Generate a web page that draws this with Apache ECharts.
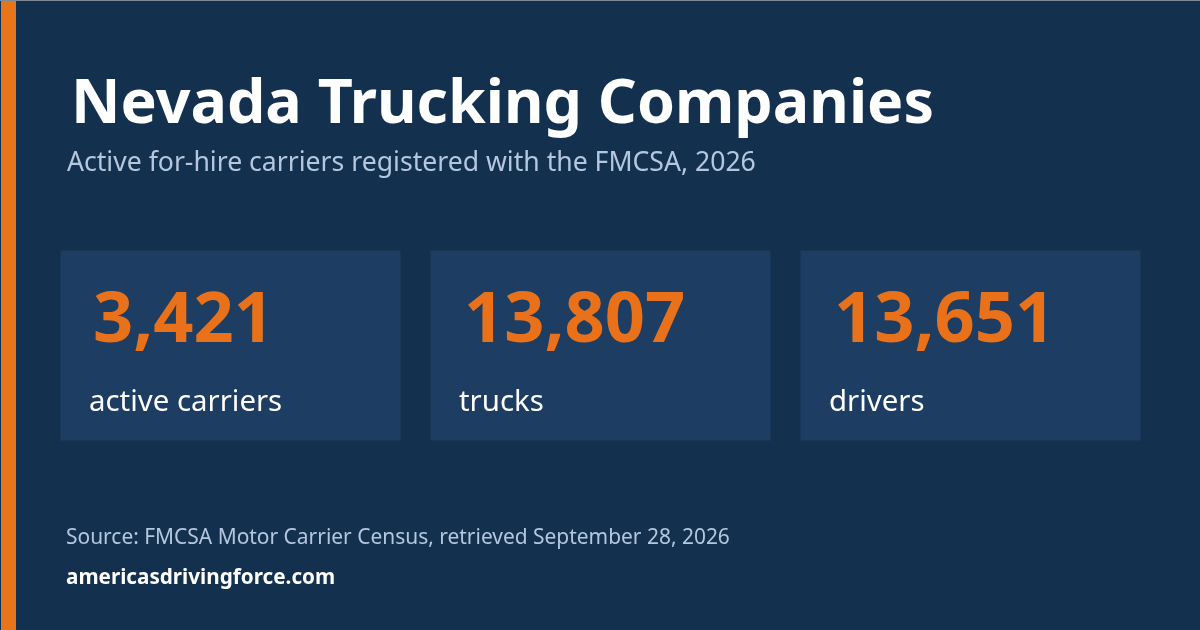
<!DOCTYPE html>
<html>
<head>
<meta charset="utf-8">
<style>
  html, body { margin: 0; padding: 0; background: #14304f; }
  #main { width: 1200px; height: 630px; }
</style>
<script src="https://cdn.jsdelivr.net/npm/echarts@6/dist/echarts.min.js"></script>
</head>
<body>
<div id="main"></div>
<script>
const titleText = 'Nevada Trucking Companies';
const subtitleText = 'Active for-hire carriers registered with the FMCSA, 2026';
const statValues = ['3,421', '13,807', '13,651'];
const statLabels = ['active carriers', 'trucks', 'drivers'];
const sourceText = 'Source: FMCSA Motor Carrier Census, retrieved September 28, 2026';
const siteText = 'americasdrivingforce.com';

const font = '"Noto Sans", "Open Sans", sans-serif';
const myChart = echarts.init(document.getElementById('main'), null, { renderer: 'canvas' });

// y is the text baseline, graphic text draws from its top so shift it up
function label(x, y, text, size, weight, fill) {
    return {
        type: 'text',
        x: x,
        y: y - size * 0.84,
        style: {
            text: text,
            fontFamily: font,
            fontSize: size,
            fontWeight: weight,
            fill: fill
        }
    };
}

let elements = [
    { type: 'rect', shape: { x: 0, y: 0, width: 1200, height: 630 }, style: { fill: '#14304f' } },
    { type: 'rect', shape: { x: 0, y: 0, width: 1200, height: 1 }, style: { fill: '#7f8b99' } },
    { type: 'rect', shape: { x: 1, y: 1, width: 15, height: 629 }, style: { fill: '#e8751a' } },
    label(71, 126, titleText, 60.9, 700, '#ffffff'),
    label(67, 172, subtitleText, 26.6, 400, '#b4c7de'),
    label(66, 545, sourceText, 20.95, 400, '#b4c7de'),
    label(66, 585, siteText, 20.7, 700, '#ffffff')
];

// one card per stat
const valueX = [93, 464, 834];
const labelX = [89, 459, 829];
statValues.forEach(function (value, i) {
    elements.push({
        type: 'rect',
        shape: { x: 60.5 + i * 370, y: 250.5, width: 340, height: 190 },
        style: { fill: '#1d3d63' }
    });
    elements.push(label(valueX[i], 346, value, 70.4, 700, '#e8711a'));
    elements.push(label(labelX[i], 413, statLabels[i], 29.4, 400, '#ffffff'));
});

let option = {
    backgroundColor: '#14304f',
    animation: false,
    graphic: { elements: elements }
};

option && myChart.setOption(option);
</script>
</body>
</html>
